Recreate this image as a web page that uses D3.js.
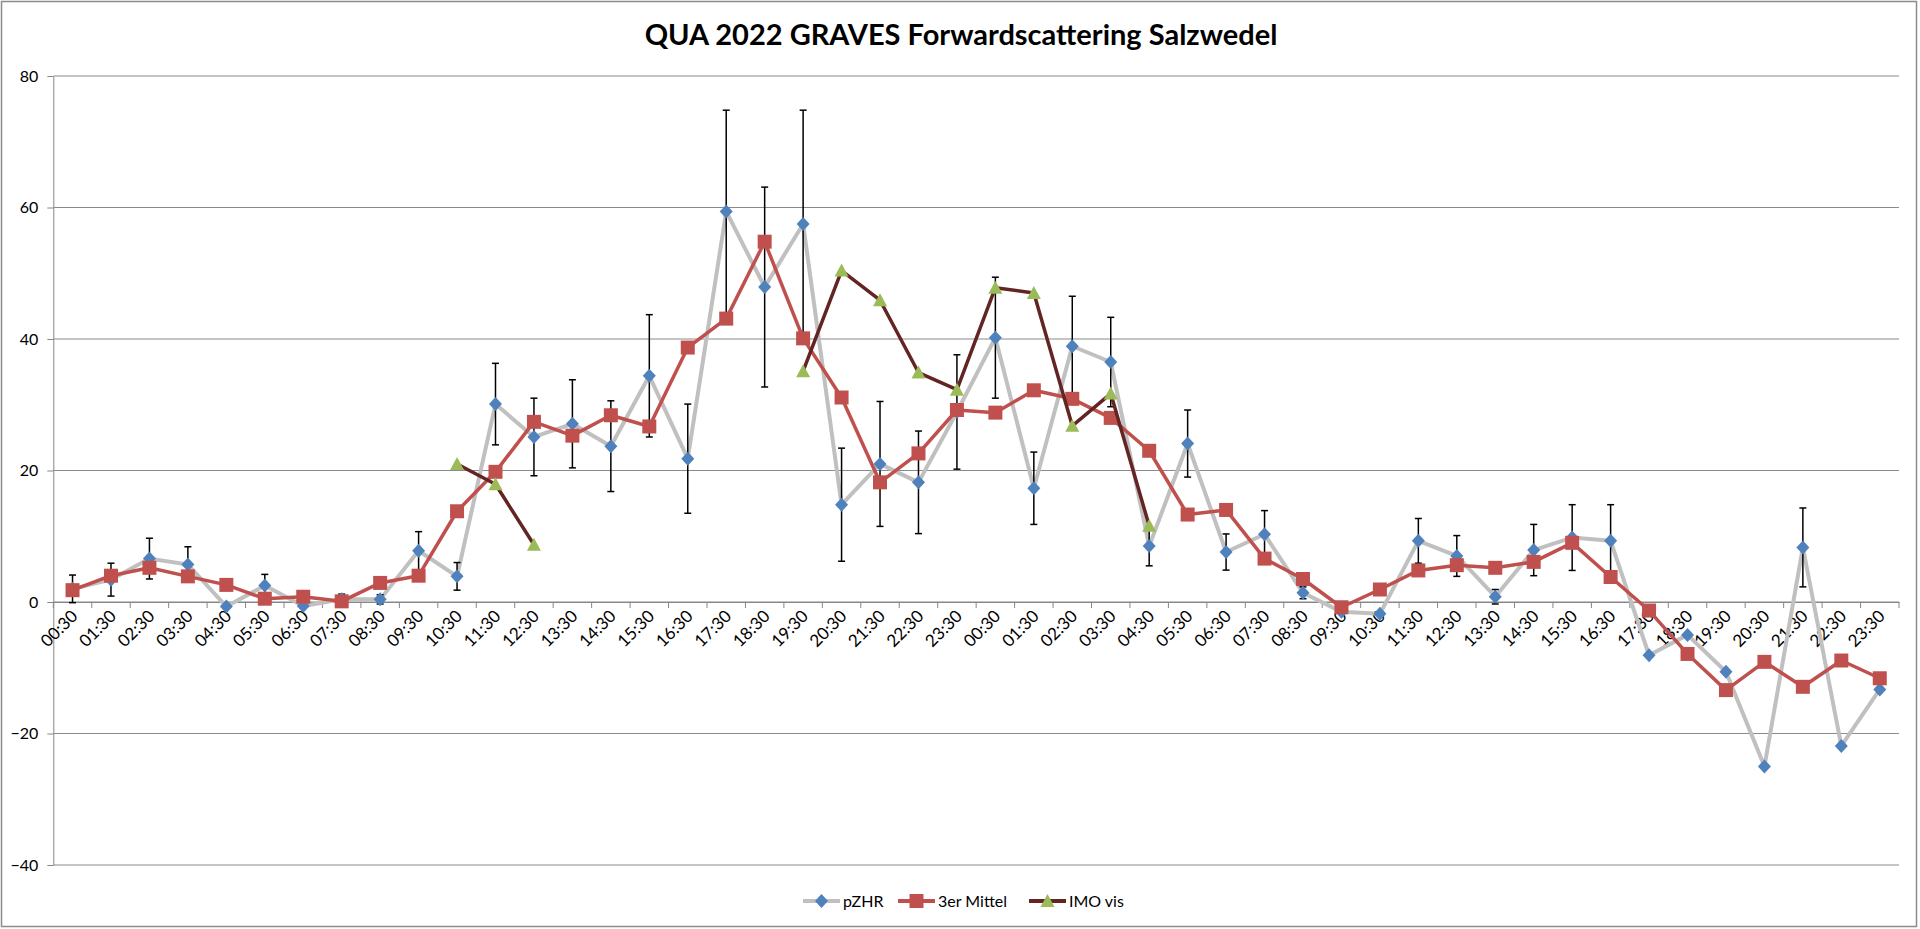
<!DOCTYPE html>
<html>
<head>
<meta charset="utf-8">
<script src="https://cdn.jsdelivr.net/npm/d3@7"></script>
<style>
  body { margin: 0; background: #fff; }
  svg { display: block; font-family: Lato, "Open Sans", sans-serif; }
</style>
</head>
<body>
<div id="chart"></div>
<script>
const hours = ["00:30", "01:30", "02:30", "03:30", "04:30", "05:30", "06:30", "07:30",
  "08:30", "09:30", "10:30", "11:30", "12:30", "13:30", "14:30", "15:30",
  "16:30", "17:30", "18:30", "19:30", "20:30", "21:30", "22:30", "23:30"];
// two nights in a row
const categories = hours.concat(hours);

const pzhr = [2.0, 3.4, 6.6, 5.7, -0.7, 2.5, -0.6, 0.4, 0.4, 7.8, 3.9, 30.1,
  25.1, 27.1, 23.7, 34.4, 21.8, 59.4, 47.9, 57.5, 14.8, 21.0, 18.2, 28.9,
  40.2, 17.3, 38.9, 36.5, 8.5, 24.1, 7.6, 10.3, 1.4, -1.5, -1.8, 9.3,
  7.0, 0.8, 7.9, 9.8, 9.3, -8.1, -5.0, -10.6, -25.0, 8.3, -21.9, -13.3];

const pzhrError = [2.1, 2.5, 3.1, 2.7, null, 1.7, null, 0.8, 0.7, 2.9, 2.1, 6.2,
  5.9, 6.7, 6.9, 9.3, 8.3, 15.4, 15.2, 17.3, 8.6, 9.5, 7.8, 8.7,
  9.2, 5.5, 7.6, 6.8, 3.0, 5.1, 2.75, 3.6, 0.9, null, null, 3.4,
  3.1, 1.1, 3.9, 5.0, 5.5, null, null, null, null, 6.0, null, null];

const mittel = [1.8, 4.0, 5.2, 3.9, 2.6, 0.5, 0.8, 0.1, 2.9, 4.0, 13.8, 19.8,
  27.4, 25.3, 28.4, 26.7, 38.7, 43.1, 54.8, 40.1, 31.1, 18.2, 22.6, 29.2,
  28.8, 32.2, 30.9, 28.0, 23.0, 13.3, 14.0, 6.6, 3.5, -0.8, 1.9, 4.8,
  5.6, 5.2, 6.1, 9.0, 3.8, -1.3, -7.9, -13.4, -9.1, -12.9, -8.9, -11.6];

const imoVis = [null, null, null, null, null, null, null, null, null, null, 21.0, 17.9,
  8.7, null, null, null, null, null, null, 35.1, 50.4, 45.9, 34.9, 32.3,
  47.8, 47.0, 26.8, 31.7, 11.6, null, null, null, null, null, null, null,
  null, null, null, null, null, null, null, null, null, null, null, null];

const yTicks = [-40, -20, 0, 20, 40, 60, 80];

const width = 1920, height = 929;
const plot = { left: 53.3, right: 1899, top: 76, bottom: 865 };

const svg = d3.select("#chart").append("svg")
  .attr("width", width)
  .attr("height", height);

svg.append("rect")
  .attr("x", 1.5).attr("y", 1.5)
  .attr("width", 1915).attr("height", 925)
  .attr("fill", "#fff")
  .attr("stroke", "#8c8c8c")
  .attr("stroke-width", 1.5);

svg.append("text")
  .attr("x", 961)
  .attr("y", 45)
  .attr("text-anchor", "middle")
  .attr("font-size", "29px")
  .attr("font-weight", "bold")
  .attr("fill", "#000")
  .text("QUA 2022 GRAVES Forwardscattering Salzwedel");

const idx = d3.range(categories.length);
const x = d3.scaleBand().domain(idx).range([plot.left, plot.right]).padding(0);
const cx = i => x(i) + x.bandwidth() / 2;
const y = d3.scaleLinear().domain([-40, 80]).range([plot.bottom, plot.top]);

// gridlines + y axis
const yAxis = svg.append("g")
  .attr("transform", `translate(${plot.left},0)`)
  .call(d3.axisLeft(y).tickValues(yTicks).tickSize(6).tickSizeOuter(0));
yAxis.select(".domain").attr("stroke", "#868686");
yAxis.selectAll(".tick line").attr("stroke", "#868686");
yAxis.selectAll(".tick text")
  .attr("x", -15)
  .attr("font-size", "16px")
  .attr("font-family", "Lato, sans-serif")
  .attr("fill", "#000");

svg.append("g")
  .selectAll("line")
  .data(yTicks)
  .join("line")
  .attr("x1", plot.left)
  .attr("x2", plot.right)
  .attr("y1", d => y(d))
  .attr("y2", d => y(d))
  .attr("stroke", "#8a8a8a")
  .attr("stroke-width", 1);

// x axis at zero
const xAxis = svg.append("g")
  .attr("transform", `translate(0,${y(0)})`)
  .call(d3.axisBottom(x).tickFormat(i => categories[i]).tickSize(0).tickSizeOuter(0));
xAxis.select(".domain").attr("stroke", "#868686");
xAxis.selectAll(".tick text")
  .attr("y", 0)
  .attr("dy", "0.35em")
  .attr("text-anchor", "end")
  .attr("transform", "translate(2,11) rotate(-45)")
  .attr("font-size", "17px")
  .attr("font-family", "Lato, sans-serif")
  .attr("fill", "#000");

svg.append("g")
  .selectAll("line")
  .data(d3.range(categories.length + 1))
  .join("line")
  .attr("x1", i => plot.left + i * x.bandwidth())
  .attr("x2", i => plot.left + i * x.bandwidth())
  .attr("y1", y(0))
  .attr("y2", y(0) + 6)
  .attr("stroke", "#868686");

const line = d3.line()
  .defined(d => d.v != null)
  .x(d => cx(d.i))
  .y(d => y(d.v));

const toPoints = arr => arr.map((v, i) => ({ i, v }));

// pZHR
svg.append("path")
  .datum(toPoints(pzhr))
  .attr("d", line)
  .attr("fill", "none")
  .attr("stroke", "#c0c0c0")
  .attr("stroke-width", 4)
  .attr("stroke-linejoin", "round");

const errGroup = svg.append("g")
  .attr("stroke", "#000")
  .attr("stroke-width", 1.5);
const errData = toPoints(pzhrError).filter(d => d.v != null);
errGroup.selectAll("line.bar")
  .data(errData)
  .join("line")
  .attr("class", "bar")
  .attr("x1", d => cx(d.i)).attr("x2", d => cx(d.i))
  .attr("y1", d => y(pzhr[d.i] + d.v))
  .attr("y2", d => y(pzhr[d.i] - d.v));
errGroup.selectAll("line.capTop")
  .data(errData)
  .join("line")
  .attr("class", "capTop")
  .attr("x1", d => cx(d.i) - 3.5).attr("x2", d => cx(d.i) + 3.5)
  .attr("y1", d => y(pzhr[d.i] + d.v)).attr("y2", d => y(pzhr[d.i] + d.v));
errGroup.selectAll("line.capBot")
  .data(errData)
  .join("line")
  .attr("class", "capBot")
  .attr("x1", d => cx(d.i) - 3.5).attr("x2", d => cx(d.i) + 3.5)
  .attr("y1", d => y(pzhr[d.i] - d.v)).attr("y2", d => y(pzhr[d.i] - d.v));

const diamond = "M0,-7L6.5,0L0,7L-6.5,0Z";
const square = "M-7,-7H7V7H-7Z";
const triangle = "M0,-7L7,6H-7Z";

svg.append("g")
  .selectAll("path")
  .data(toPoints(pzhr))
  .join("path")
  .attr("d", diamond)
  .attr("transform", d => `translate(${cx(d.i)},${y(d.v)})`)
  .attr("fill", "#4f81bd");

// 3er Mittel
svg.append("path")
  .datum(toPoints(mittel))
  .attr("d", line)
  .attr("fill", "none")
  .attr("stroke", "#c0504d")
  .attr("stroke-width", 3.5)
  .attr("stroke-linejoin", "round");

svg.append("g")
  .selectAll("path")
  .data(toPoints(mittel))
  .join("path")
  .attr("d", square)
  .attr("transform", d => `translate(${cx(d.i)},${y(d.v)})`)
  .attr("fill", "#c0504d");

// IMO vis
svg.append("path")
  .datum(toPoints(imoVis))
  .attr("d", line)
  .attr("fill", "none")
  .attr("stroke", "#632523")
  .attr("stroke-width", 3.5)
  .attr("stroke-linejoin", "round");

svg.append("g")
  .selectAll("path")
  .data(toPoints(imoVis).filter(d => d.v != null))
  .join("path")
  .attr("d", triangle)
  .attr("transform", d => `translate(${cx(d.i)},${y(d.v)})`)
  .attr("fill", "#9bbb59");

// legend
const legendItems = [
  { label: "pZHR", x: 803, stroke: "#c0c0c0", marker: diamond, fill: "#4f81bd" },
  { label: "3er Mittel", x: 898, stroke: "#c0504d", marker: square, fill: "#c0504d" },
  { label: "IMO vis", x: 1029, stroke: "#632523", marker: triangle, fill: "#9bbb59" }
];

const legend = svg.append("g").attr("transform", "translate(0,901)");
const li = legend.selectAll("g")
  .data(legendItems)
  .join("g")
  .attr("transform", d => `translate(${d.x},0)`);
li.append("line")
  .attr("x1", 0).attr("x2", 37)
  .attr("stroke", d => d.stroke)
  .attr("stroke-width", 4);
li.append("path")
  .attr("d", d => d.marker)
  .attr("transform", "translate(18.5,0)")
  .attr("fill", d => d.fill);
li.append("text")
  .attr("x", 40)
  .attr("dy", "0.35em")
  .attr("font-size", "16px")
  .attr("fill", "#000")
  .text(d => d.label);
</script>
</body>
</html>
